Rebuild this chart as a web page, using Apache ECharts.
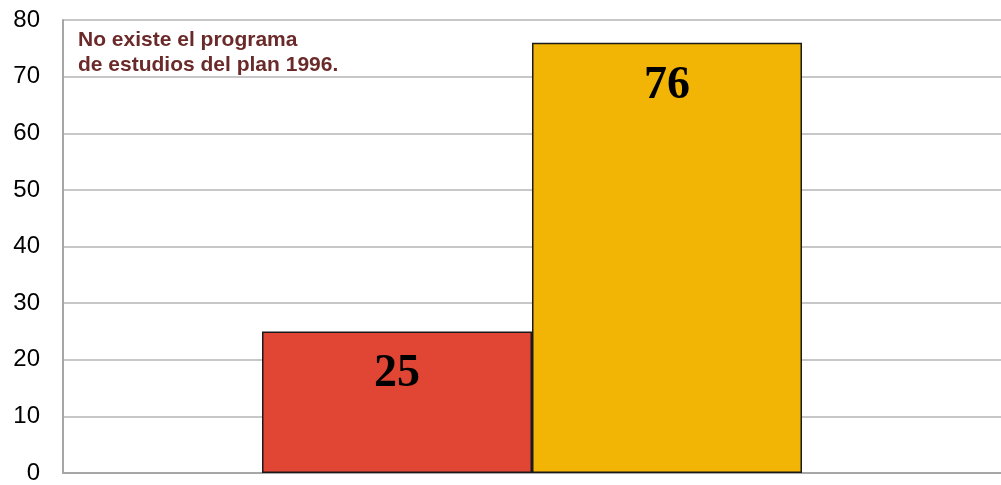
<!DOCTYPE html>
<html>
<head>
<meta charset="utf-8">
<script src="https://cdn.jsdelivr.net/npm/echarts@6/dist/echarts.min.js"></script>
<style>
  html, body { margin: 0; padding: 0; background: #fff; }
  #chart { width: 1001px; height: 485px; }
</style>
</head>
<body>
<div id="chart"></div>
<script>
// datos
var categories = [''];
var seriesNames = ['Plan 1996', 'Plan actual'];
var seriesValues = [[25], [76]];
var barColors = ['#E04633', '#F2B405'];
var yTicks = { min: 0, max: 80, interval: 10 };
var note = 'No existe el programa\nde estudios del plan 1996.';

var myChart = echarts.init(document.getElementById('chart'));

var series = seriesNames.map(function (name, i) {
    return {
        name: name,
        type: 'bar',
        data: seriesValues[i],
        barWidth: 270,
        barGap: '0%',
        itemStyle: {
            color: barColors[i],
            borderColor: '#1a1a1a',
            borderWidth: 1.5,
        },
        label: {//数值标签
            show: true,
            position: 'insideTop',
            distance: 20,
            color: '#000',
            fontFamily: '"Liberation Serif", serif',
            fontWeight: 'bold',
            fontSize: 46,
            lineHeight: 46,
        },
    };
});

var option = {
    animation: false,
    title: {
        text: note,
        left: 73,
        top: 23,
        textStyle: {
            color: '#6B2A2A',
            fontFamily: '"Liberation Sans", Arial, sans-serif',
            fontWeight: 'bold',
            fontSize: 21,
            lineHeight: 25,
        },
    },
    grid: {
        left: 63,
        top: 20,
        right: -6,
        bottom: 11,
        containLabel: false,
    },
    xAxis: {
        type: 'category',
        data: categories,
        axisLine: { lineStyle: { color: '#A6A6A6', width: 2 } },
        axisTick: { show: false },
        axisLabel: { show: false },
    },
    yAxis: {
        type: 'value',
        min: yTicks.min,
        max: yTicks.max,
        interval: yTicks.interval,
        axisLine: { show: true, lineStyle: { color: '#A6A6A6', width: 2 } },
        axisTick: { show: false },
        axisLabel: {
            color: '#000',
            fontFamily: '"Liberation Sans", Arial, sans-serif',
            fontSize: 24,
            margin: 23,
        },
        splitLine: { lineStyle: { color: '#B4B4B4', width: 1.5 } },
    },
    series: series,
};

myChart.setOption(option);
</script>
</body>
</html>
